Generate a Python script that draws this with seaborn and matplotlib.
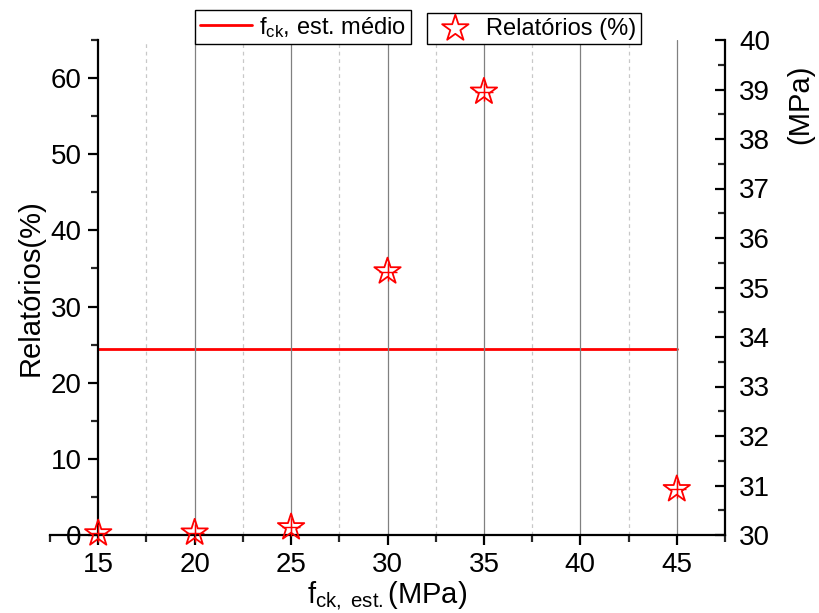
import matplotlib
matplotlib.use("Agg")
import matplotlib.pyplot as plt
import seaborn as sns
import pandas as pd
from matplotlib.ticker import MultipleLocator

# data
fck_classes = [15, 20, 25, 30, 35, 45]
relatorios_pct = [0.2, 0.3, 1.0, 34.6, 58.2, 6.0]
media_x = [15, 45]
media_mpa = [33.75, 33.75]

sns.set_theme(style="white")
plt.rcParams['font.family'] = ['Liberation Sans', 'DejaVu Sans']
plt.rcParams['mathtext.fontset'] = 'custom'
plt.rcParams['mathtext.rm'] = 'Liberation Sans'
plt.rcParams['mathtext.it'] = 'Liberation Sans'
plt.rcParams['text.color'] = 'black'
plt.rcParams['axes.labelcolor'] = 'black'

fig = plt.figure(figsize=(8.19, 6.13), dpi=100)
ax = fig.add_axes([50/819, 1-535/613, 675/819, 495/613])

df_pts = pd.DataFrame({"x": fck_classes, "y": relatorios_pct})
df_line = pd.DataFrame({"x": media_x, "y": media_mpa})

ax.set_xlim(12.5, 47.5)
ax.set_ylim(0, 65)

ax.xaxis.set_major_locator(MultipleLocator(5))
ax.xaxis.set_minor_locator(MultipleLocator(2.5))
ax.yaxis.set_major_locator(MultipleLocator(10))
ax.yaxis.set_minor_locator(MultipleLocator(5))
ax.grid(False)
for v in ax.xaxis.get_majorticklocs():
    if 15 < v < 47.5:
        ax.axvline(v, color='#808080', lw=0.9, zorder=0)
for v in ax.xaxis.get_minorticklocs():
    if 15 < v < 47.5 and v % 5 != 0:
        ax.axvline(v, color='#c8c8c8', lw=0.9, ls=(0, (3, 3)), zorder=0)

ax2 = ax.twinx()
ax2.set_ylim(30, 40)
ax2.set_xlim(12.5, 47.5)

sns.lineplot(data=df_line, x="x", y="y", ax=ax2, color='#ff0000', lw=2,
             label=r'f$_{\mathregular{ck}}$, est. médio', legend=False)
sns.scatterplot(data=df_pts, x="x", y="y", ax=ax, marker='*', s=400,
                facecolor='none', edgecolor='#ff0000', linewidth=1.3,
                label='Relatórios (%)', legend=False, zorder=5, clip_on=False)
sns.scatterplot(data=df_pts, x="x", y="y", ax=ax, marker='+', s=150,
                color='#ff0000', linewidth=1.0, legend=False, zorder=5, clip_on=False)
ax.set_zorder(ax2.get_zorder() + 1)
ax.patch.set_visible(False)

for a in (ax, ax2):
    a.spines['top'].set_visible(False)
ax.spines['right'].set_visible(False)
ax.spines['left'].set_position(('data', 15))
ax2.spines['left'].set_visible(False)
ax2.spines['bottom'].set_visible(False)
for sp in ['left', 'bottom']:
    ax.spines[sp].set_color('black')
    ax.spines[sp].set_linewidth(1.6)
ax2.spines['right'].set_color('black')
ax2.spines['right'].set_linewidth(1.6)

ax.tick_params(axis='both', which='major', direction='out', length=7, width=1.6,
               labelsize=20, colors='black', left=True, bottom=True, pad=5)
ax.tick_params(axis='both', which='minor', direction='out', length=5, width=1.6,
               left=True, bottom=True)
ax2.yaxis.set_major_locator(MultipleLocator(1))
ax2.yaxis.set_minor_locator(MultipleLocator(0.5))
ax2.tick_params(axis='y', which='major', direction='in', length=7, width=1.6,
                labelsize=20, colors='black', right=True, pad=10)
ax2.tick_params(axis='y', which='minor', direction='in', length=5, width=1.6, right=True)

ax.set_xlabel(r'f$_{\mathregular{ck,\ est.}}$(MPa)', fontsize=21, labelpad=1)
ax.set_ylabel('Relatórios(%)', fontsize=21, labelpad=4)
ax2.set_ylabel('(MPa)', fontsize=21)
ax2.yaxis.set_label_coords(1.09, 0.87)

h1, l1 = ax2.get_legend_handles_labels()
h2, l2 = ax.get_legend_handles_labels()
leg_kw = dict(frameon=True, fancybox=False, framealpha=1, edgecolor='black',
              fontsize=17, borderpad=0.2, handletextpad=0.3, borderaxespad=0)
lg1 = fig.legend(h1, l1, loc='upper left', bbox_to_anchor=(195/819, 1-10/613),
                 handlelength=2.2, **leg_kw)
lg2 = fig.legend(h2[:1], l2[:1], loc='upper left', bbox_to_anchor=(427/819, 1-13/613),
                 handlelength=2.0, **leg_kw)
for lg in (lg1, lg2):
    lg.get_frame().set_linewidth(1.0)

fig.savefig('out.png', dpi=100)
